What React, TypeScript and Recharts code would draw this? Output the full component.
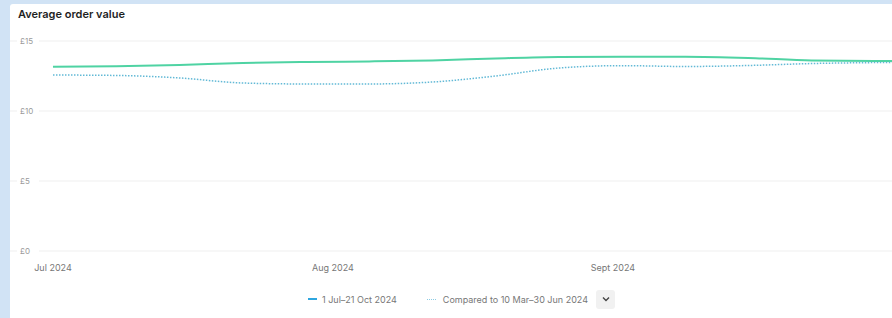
import React from 'react';
import { LineChart, Line, XAxis, YAxis, CartesianGrid } from 'recharts';

// days since 1 Jul 2024, weekly points
const days = [0, 7, 14, 21, 28, 35, 42, 49, 56, 63, 70, 77, 84, 91, 98];
const currentValues = [13.16, 13.19, 13.29, 13.43, 13.5, 13.54, 13.61, 13.75, 13.86, 13.88, 13.88, 13.79, 13.61, 13.57, 13.57];
const previousValues = [12.57, 12.54, 12.36, 12.0, 11.93, 11.93, 12.07, 12.5, 13.07, 13.24, 13.18, 13.25, 13.39, 13.46, 13.5];

const xTicks = [0, 31, 62];
const xTickLabels = ['Jul 2024', 'Aug 2024', 'Sept 2024'];
const yTicks = [0, 5, 10, 15];

const currentLabel = '1 Jul–21 Oct 2024';
const previousLabel = 'Compared to 10 Mar–30 Jun 2024';

const data = days.map((d, i) => ({ day: d, current: currentValues[i], previous: previousValues[i] }));

const FONT = 'Inter, "Noto Sans", sans-serif';

const YTick = (props: any) => {
  const { y, payload } = props;
  return (
    <g>
      <rect x={17} y={y - 5} width={22} height={10} fill="#fff" />
      <text x={20} y={y} dy={3} fontSize={8} fill="#9a9a9a" fontFamily={FONT} textAnchor="start">
        £{payload.value}
      </text>
    </g>
  );
};

const XTick = (props: any) => {
  const { x, y, payload } = props;
  const idx = xTicks.indexOf(payload.value);
  return (
    <text x={x} y={y} dy={12} textAnchor="middle" fontSize={9} fill="#777" fontFamily={FONT}>
      {xTickLabels[idx]}
    </text>
  );
};

export default function App() {
  return (
    <>
      <style>{`body{margin:0;}`}</style>
      <div style={{ position: 'relative', width: 892, height: 318, background: '#d1e3f5', overflow: 'hidden', fontFamily: FONT }}>
        <div style={{ position: 'absolute', left: 10, top: 4, width: 900, height: 330, background: '#fff', borderTopLeftRadius: 3 }} />
        <div style={{ position: 'absolute', left: 18, top: 8, fontSize: 11, fontWeight: 600, color: '#1f1f1f', lineHeight: '13px' }}>
          Average order value
        </div>
        <div style={{ position: 'absolute', left: 0, top: 0 }}>
          <LineChart width={892} height={285} data={data} margin={{ top: 41, right: 0, left: 10, bottom: 4 }}>
            <CartesianGrid vertical={false} stroke="#efefef" />
            <XAxis
              dataKey="day"
              type="number"
              domain={[-4.76, 92.9]}
              allowDataOverflow
              ticks={xTicks}
              tick={<XTick />}
              axisLine={false}
              tickLine={false}
              height={30}
              interval={0}
            />
            <YAxis
              domain={[0, 15]}
              ticks={yTicks}
              mirror
              width={30}
              tick={<YTick />}
              axisLine={false}
              tickLine={false}
              interval={0}
            />
            <Line
              type="monotone"
              dataKey="previous"
              stroke="#62b9d6"
              strokeWidth={1.5}
              strokeDasharray="1.5 1.5"
              dot={false}
              isAnimationActive={false}
            />
            <Line
              type="monotone"
              dataKey="current"
              stroke="#4fd3a3"
              strokeWidth={2}
              dot={false}
              isAnimationActive={false}
            />
          </LineChart>
        </div>
        <div style={{ position: 'absolute', left: 308, top: 289, height: 20, display: 'flex', alignItems: 'center', fontSize: 9, color: '#777' }}>
          <span style={{ display: 'inline-block', width: 9, height: 0, borderTop: '2px solid #2ea6df', marginRight: 5 }} />
          <span>{currentLabel}</span>
          <span style={{ display: 'inline-block', width: 9, height: 0, borderTop: '1.5px dotted #8ccbe3', marginLeft: 30, marginRight: 7 }} />
          <span>{previousLabel}</span>
          <span style={{ display: 'inline-flex', alignItems: 'center', justifyContent: 'center', width: 19, height: 19, marginLeft: 8, background: '#f1f1f1', borderRadius: 3, color: '#444', fontSize: 9 }}>
            <svg width="8" height="6" viewBox="0 0 8 6"><path d="M1 1.5 L4 4.5 L7 1.5" fill="none" stroke="#444" strokeWidth="1.4" /></svg>
          </span>
        </div>
      </div>
    </>
  );
}
